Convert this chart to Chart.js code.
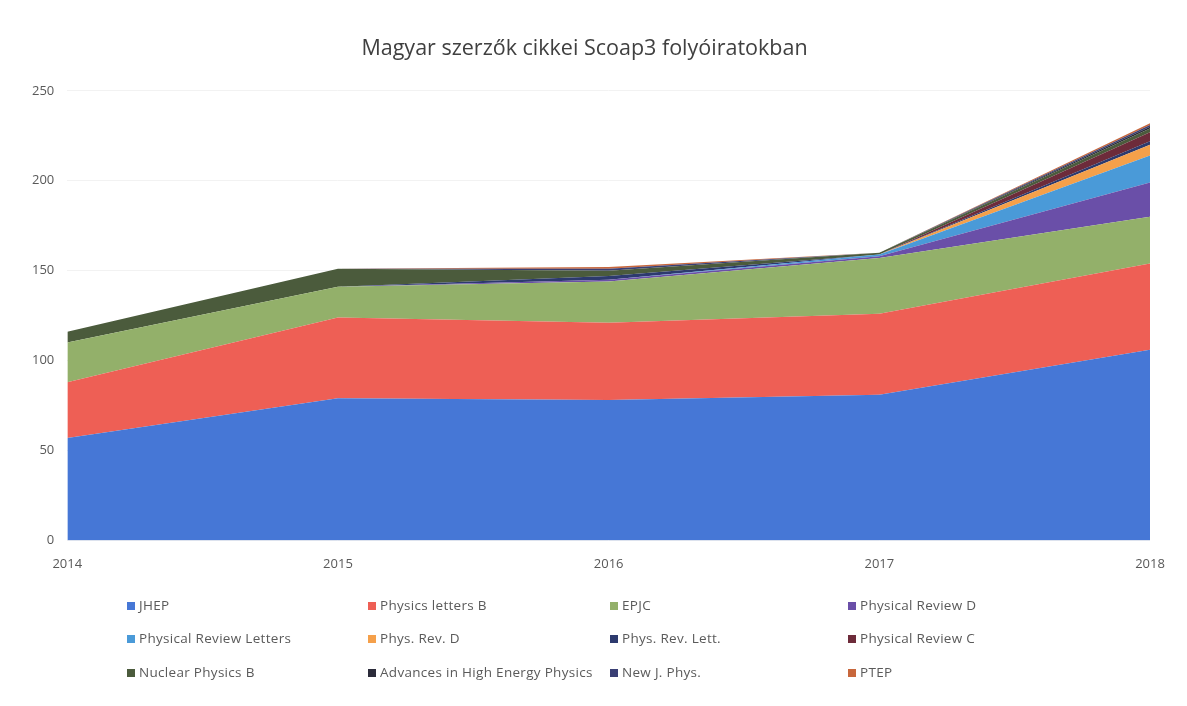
<!DOCTYPE html>
<html lang="hu">
<head>
  <meta charset="UTF-8" />
  <title>Magyar szerzők cikkei Scoap3 folyóiratokban</title>
  <script src="https://cdn.jsdelivr.net/npm/chart.js"></script>
  <style>
    body { margin:0; background:#fff; font-family:'Open Sans',sans-serif; }
    .wrap { position:relative; width:1187px; height:706px; overflow:hidden; }
    .chartBox { position:absolute; left:0; top:0; width:1187px; height:592px; }
    #legend {
      position:absolute; left:127px; top:588px;
      display:grid; grid-template-columns:241px 242px 238px 200px;
      grid-auto-rows:33.5px; align-items:center;
      font-size:13.5px; letter-spacing:0.3px; color:#5a5a5a;
    }
    #legend span.sw { display:inline-block; width:8px; height:8px; margin-right:4px; vertical-align:0px; }
  </style>
</head>
<body>
  <div class="wrap">
    <div class="chartBox"><canvas id="areaChart"></canvas></div>
    <div id="legend"></div>
  </div>

  <script>
    const years = ["2014", "2015", "2016", "2017", "2018"];
    const yTicks = [0, 50, 100, 150, 200, 250];

    const journals = ["JHEP", "Physics letters B", "EPJC", "Physical Review D",
      "Physical Review Letters", "Phys. Rev. D", "Phys. Rev. Lett.", "Physical Review C",
      "Nuclear Physics B", "Advances in High Energy Physics", "New J. Phys.", "PTEP"];

    const jhep        = [57, 79, 78, 81, 106];
    const plb         = [31, 45, 43, 45, 48];
    const epjc        = [22, 17, 23, 31, 26];
    const prd         = [0, 0, 1, 1, 19];
    const prl         = [0, 0, 0, 1, 15];
    const physRevD    = [0, 0, 0, 0, 6];
    const physRevLett = [0, 0, 2, 0, 2];
    const prc         = [0, 0, 0, 0, 5];
    const npb         = [6, 10, 3, 1, 2];
    const ahep        = [0, 0, 0, 0, 1];
    const njp         = [0, 0, 1, 0, 1];
    const ptep        = [0, 0, 1, 0, 1];

    const series = [jhep, plb, epjc, prd, prl, physRevD, physRevLett, prc, npb, ahep, njp, ptep];
    const colors = ["#4677d6", "#ee5f55", "#93b06a", "#6a4fa8", "#4a9ad8", "#f5a04a",
      "#2d3a6e", "#6d2b3a", "#4b5b3c", "#2b2b3a", "#3a3f74", "#c8673c"];

    const datasets = series.map((d, i) => ({
      label: journals[i],
      data: d,
      backgroundColor: colors[i],
      borderColor: colors[i],
      borderWidth: 0,
      pointRadius: 0,
      tension: 0,
      fill: i === 0 ? "origin" : "-1"
    }));

    new Chart(document.getElementById("areaChart"), {
      type: "line",
      data: { labels: years, datasets: datasets },
      options: {
        responsive: true,
        maintainAspectRatio: false,
        animation: false,
        layout: { padding: { left: 19, right: 37, bottom: 4 } },
        plugins: {
          legend: { display: false },
          tooltip: { enabled: false },
          title: {
            display: true,
            text: "Magyar szerzők cikkei Scoap3 folyóiratokban",
            color: "#404040",
            font: { family: "'Open Sans', sans-serif", size: 21.5, weight: "normal" },
            padding: { top: 36, bottom: 29 }
          }
        },
        scales: {
          x: {
            offset: false,
            grid: { display: false, drawTicks: false },
            border: { display: false },
            ticks: { color: "#595959", padding: 16, font: { family: "'Open Sans', sans-serif", size: 13 } }
          },
          y: {
            stacked: true,
            min: 0, max: 250,
            afterBuildTicks: axis => { axis.ticks = yTicks.map(v => ({ value: v })); },
            grid: { color: "#f2f2f2", drawTicks: false },
            border: { display: false },
            ticks: { color: "#595959", padding: 13, font: { family: "'Open Sans', sans-serif", size: 13 } }
          }
        }
      }
    });

    const legend = document.getElementById("legend");
    journals.forEach((name, i) => {
      const item = document.createElement("div");
      item.innerHTML = '<span class="sw" style="background:' + colors[i] + '"></span>' + name;
      legend.appendChild(item);
    });
  </script>
</body>
</html>
